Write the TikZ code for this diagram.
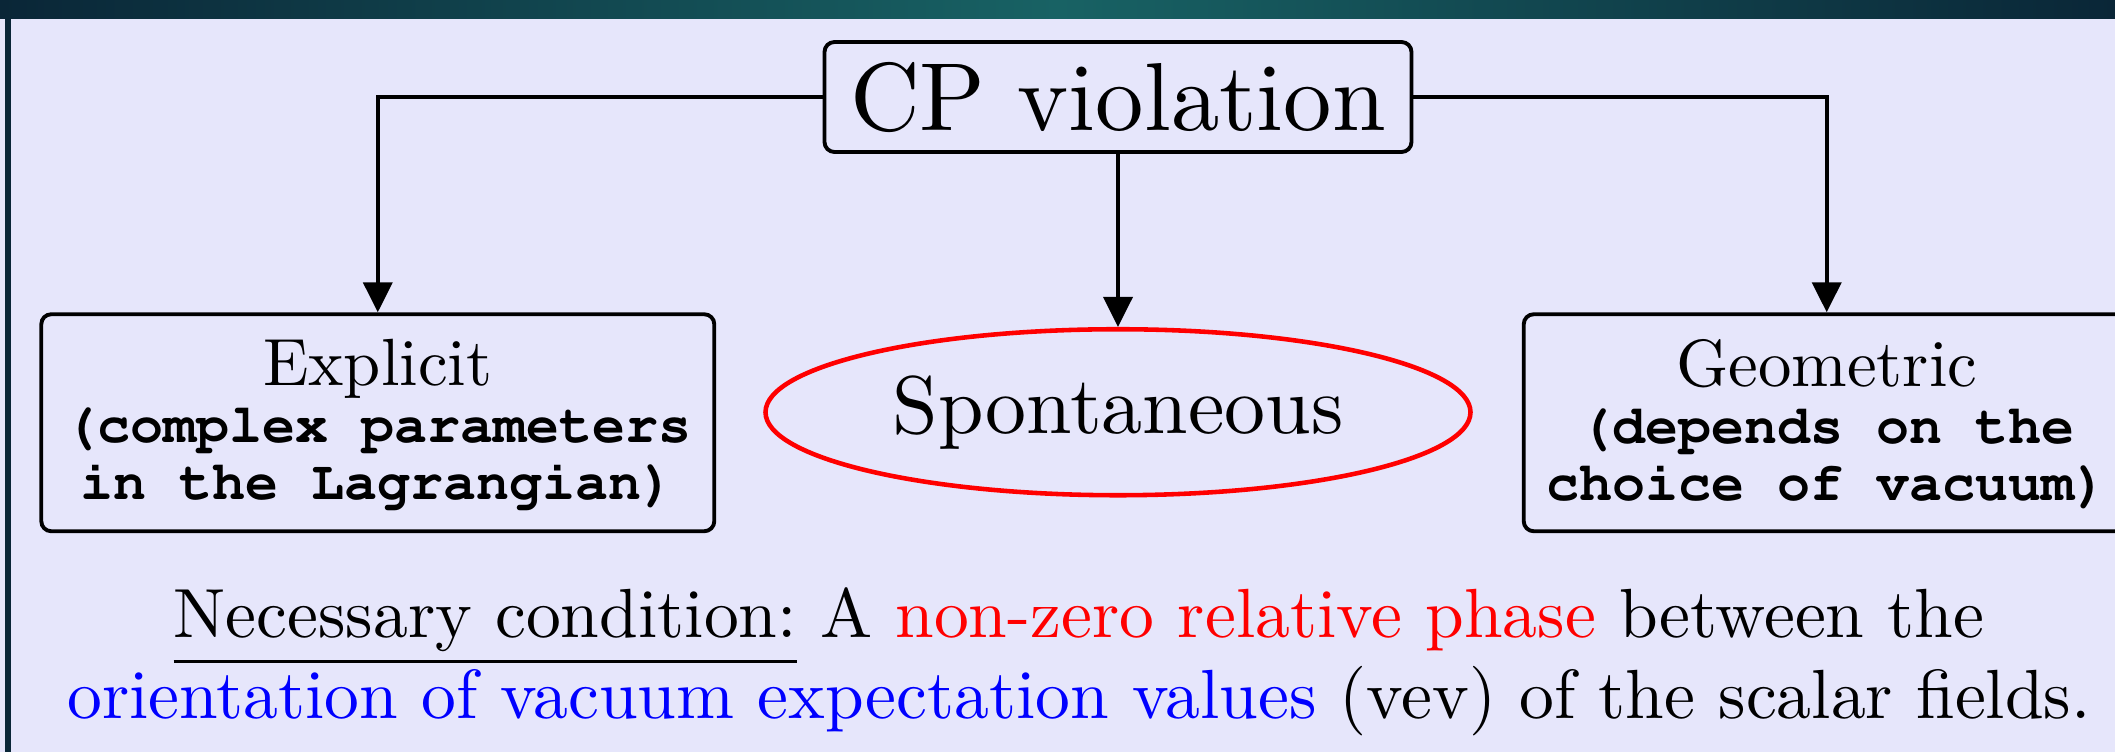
\documentclass[tikz,border=0pt]{standalone}
\usepackage[T1]{fontenc}
\usepackage{fontspec}
\setmainfont{lmroman10-regular}[Extension=.otf, BoldFont=lmroman10-bold, ItalicFont=lmroman10-italic]
\usetikzlibrary{arrows.meta,positioning,shapes.geometric}
\definecolor{slidebg}{RGB}{230,230,251}
\definecolor{stripdark}{RGB}{10,38,55}
\definecolor{stripteal}{RGB}{24,98,100}
\tikzset{%
  % node classes
  kind/.style={draw, rounded corners=1mm, line width=1.1pt, align=center, inner sep=0pt},
  head/.style={kind, minimum width=5.87cm, minimum height=1.1cm, font=\fontsize{27.5}{30}\selectfont},
  branch/.style={kind, minimum height=2.17cm, font=\fontsize{15.65}{16.2}\selectfont},
  spont/.style={ellipse, draw=red, line width=1.3pt, inner sep=0pt, minimum width=7.05cm, minimum height=1.66cm, font=\fontsize{23.3}{26}\selectfont},
  % edge styles
  rel/.style={-{Triangle[width=2.9mm,length=3mm]}, line width=1.1pt},
  note/.style={align=center, font=\fontsize{19.8}{19.5}\selectfont},
}
\newcommand{\kindname}[1]{{\fontsize{19}{16.2}\selectfont #1}}
\newcommand{\kindcode}[1]{{\fontencoding{T1}\fontfamily{pcr}\fontseries{b}\selectfont #1}}
\newcommand{\condline}[1]{\setbox0\hbox{#1}\rlap{\rule[-0.36em]{\wd0}{0.045em}}\box0\relax}

\begin{document}
\begin{tikzpicture}
  \useasboundingbox (0,0) rectangle (21.15,-7.52);
  \clip (0,0) rectangle (21.15,-7.52);
  % slide background
  \fill[slidebg] (0,0) rectangle (21.15,-7.52);
  \shade[left color=stripdark, right color=stripdark, middle color=stripteal] (0,0) rectangle (21.15,-0.185);
  \fill[stripdark] (0.05,-0.18) rectangle (0.11,-7.52);

  \node[head] (cp) at (11.18,-0.97) {CP violation};
  \node[spont, below=1.73cm of cp] (sp) {Spontaneous};
  \node[branch, minimum width=6.73cm, left=0.47cm of sp, yshift=-1.05mm] (ex)
    {\kindname{Explicit}\\\kindcode{(complex parameters}\\\kindcode{in the Lagrangian)}};
  \node[branch, minimum width=6.06cm, right=0.49cm of sp, yshift=-1.05mm] (ge)
    {\kindname{Geometric}\\\kindcode{(depends on the}\\\kindcode{choice of vacuum)}};

  \draw[rel] (cp.west) -| (ex.north);
  \draw[rel] (cp.east) -| (ge.north);
  \draw[rel] (cp.south) -- (sp.north);

  \node[note] (cond) at (10.79,-6.62)
    {\condline{Necessary condition:} A \textcolor{red}{non-zero relative phase} between the\\
     \textcolor{blue}{orientation of vacuum expectation values} (vev) of the scalar fields.};
\end{tikzpicture}
\end{document}
